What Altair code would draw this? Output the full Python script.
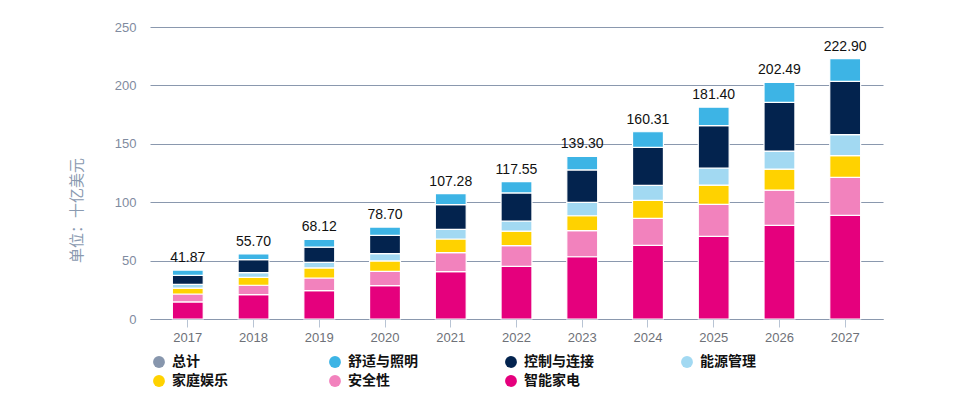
import altair as alt
import pandas as pd

years = ["2017", "2018", "2019", "2020", "2021", "2022", "2023", "2024", "2025", "2026", "2027"]
appliances = [14.6, 20.8, 24.3, 28.5, 40.5, 45.0, 53.3, 63.0, 70.7, 80.1, 88.7]      # 智能家电
security = [6.8, 8.1, 10.8, 12.3, 16.3, 17.8, 22.3, 23.1, 27.4, 30.3, 32.5]          # 安全性
entertainment = [5.1, 6.8, 8.6, 8.9, 11.7, 12.5, 12.8, 15.4, 16.6, 18.0, 18.6]       # 家庭娱乐
energy = [3.2, 4.0, 4.8, 6.2, 8.2, 8.6, 11.4, 12.9, 14.6, 15.4, 18.0]                # 能源管理
control = [7.7, 11.1, 13.1, 15.7, 21.2, 24.0, 27.8, 32.5, 36.2, 41.6, 45.6]          # 控制与连接
comfort = [4.47, 4.9, 6.52, 7.1, 9.38, 9.65, 11.7, 13.41, 15.9, 17.09, 19.5]         # 舒适与照明
totals = [41.87, 55.70, 68.12, 78.70, 107.28, 117.55, 139.30, 160.31, 181.40, 202.49, 222.90]

series_names = ["智能家电", "安全性", "家庭娱乐", "能源管理", "控制与连接", "舒适与照明"]
series_values = [appliances, security, entertainment, energy, control, comfort]

legend_domain = ["总计", "舒适与照明", "控制与连接", "能源管理", "家庭娱乐", "安全性", "智能家电"]
legend_colors = ["#8796ad", "#3db4e5", "#03234e", "#a2d9f2", "#ffd200", "#f282bd", "#e5007d"]

rows = []
for si, (name, vals) in enumerate(zip(series_names, series_values)):
    for y, v in zip(years, vals):
        rows.append({"year": y, "segment": name, "value": v, "order": si})
df = pd.DataFrame(rows)
tot_df = pd.DataFrame({"year": years, "total": totals,
                       "label": [f"{t:.2f}" for t in totals]})

FONT = "Liberation Sans, Noto Sans CJK SC"
y_scale = alt.Scale(domain=[0, 250], nice=False, zero=True)

x_enc = alt.X("year:N", title=None,
              scale=alt.Scale(paddingInner=0.53, paddingOuter=0.34),
              axis=alt.Axis(labelAngle=0, domainColor="#8a98ae", tickColor="#b8c4d4",
                            tickSize=8, labelColor="#6e7178", labelFontSize=13,
                            labelFont=FONT, labelPadding=4, grid=False))

bars = alt.Chart(df).mark_bar(stroke="white", strokeWidth=1.2).encode(
    x=x_enc,
    y=alt.Y("value:Q", stack="zero", scale=y_scale,
            axis=alt.Axis(values=[0, 50, 100, 150, 200, 250], title="单位：十亿美元",
                          grid=True, gridColor="#8a98ae", gridWidth=1, domain=False,
                          ticks=False, labelColor="#7f8ba0", labelFontSize=13,
                          labelFont=FONT, labelPadding=14,
                          titleColor="#8a9ab0", titleFontSize=15, titleFontWeight="normal",
                          titleFont="Noto Sans CJK SC", titleX=-74, titleY=183,
                          titleAngle=270, titleAlign="center", titleBaseline="middle")),
    color=alt.Color("segment:N",
                    scale=alt.Scale(domain=legend_domain, range=legend_colors),
                    legend=alt.Legend(title=None, orient="none", legendX=2, legendY=328,
                                      direction="horizontal",
                                      columns=4, gridAlign="all", columnPadding=86,
                                      rowPadding=5, symbolType="circle", symbolSize=140,
                                      symbolStrokeWidth=0, labelFontSize=14,
                                      labelFontWeight="bold", labelColor="#111111",
                                      labelFont="Noto Sans CJK SC", labelOffset=6)),
    order=alt.Order("order:Q"),
)

labels = alt.Chart(tot_df).mark_text(dy=-5, fontSize=14, color="#111111", font=FONT,
                                     baseline="bottom").encode(
    x=alt.X("year:N"),
    y=alt.Y("total:Q", scale=y_scale),
    text="label:N",
)

chart = alt.layer(bars, labels).properties(
    width=733, height=292,
    autosize="none",
    padding={"left": 142, "top": 19, "right": 80, "bottom": 77},
).configure_view(stroke=None)

chart.save("out.html", embed_options={"renderer": "svg", "actions": False})
